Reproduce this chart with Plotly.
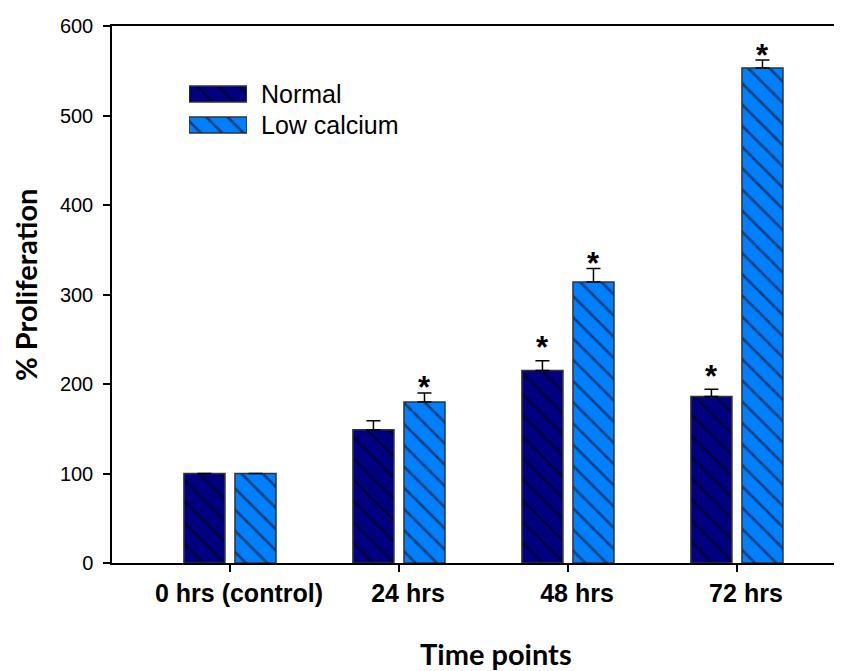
import plotly.graph_objects as go

categories = ["0 hrs (control)", "24 hrs", "48 hrs", "72 hrs"]
normal = [100, 149, 215, 186]
normal_err = [0, 10, 11, 8]
low_ca = [100, 180, 314, 553]
low_ca_err = [0, 10, 15, 9]
normal_sig = [False, False, True, True]
low_sig = [False, True, True, True]
y_ticks = [0, 100, 200, 300, 400, 500, 600]

NAVY = "#000080"
BLUE = "#0080ff"
OFF = 8                      # page body margin of the html page
W, H = 842 - OFF, 671 - OFF  # figure size so the page fits the window
L, R, T, B = 112 - OFF, 5, 26 - OFF, 108   # margins in figure px

pattern = dict(shape="\\", fgcolor="black", size=15, solidity=0.18)
outline = dict(color="#333", width=1.5)

fig = go.Figure()
fig.add_trace(go.Bar(
    name="Normal", x=categories, y=normal,
    marker=dict(color=NAVY, line=outline, pattern=pattern),
    error_y=dict(type="data", array=normal_err, arrayminus=[0]*4, symmetric=False,
                 color="black", thickness=1.5, width=7),
    showlegend=False,
))
fig.add_trace(go.Bar(
    name="Low calcium", x=categories, y=low_ca,
    marker=dict(color=BLUE, line=outline, pattern=pattern),
    error_y=dict(type="data", array=low_ca_err, arrayminus=[0]*4, symmetric=False,
                 color="black", thickness=1.5, width=7),
    showlegend=False,
))

pw = W - L - R
ph = H - T - B
def px_x(p):  # screen px -> paper fraction
    return (p - OFF - L) / pw
def px_y(p):
    return (H - B - (p - OFF)) / ph

# custom legend swatches (large patterned boxes, as in the reference)
leg_names = ["Normal", "Low calcium"]
leg_colors = [NAVY, BLUE]
for i, (nm, col) in enumerate(zip(leg_names, leg_colors)):
    fig.add_trace(go.Bar(
        x=[1], y=[1 - i], orientation="h", width=0.52,
        marker=dict(color=col, line=outline, pattern=pattern),
        xaxis="x2", yaxis="y2", showlegend=False, hoverinfo="skip",
    ))
    fig.add_annotation(
        x=1, y=1 - i, xref="x2", yref="y2", text=nm, showarrow=False,
        xanchor="left", yanchor="middle", xshift=12,
        font=dict(family="Liberation Sans, Arial", size=25, color="black"),
    )

# significance asterisks
off = 0.151
for i, c in enumerate(categories):
    if normal_sig[i]:
        fig.add_annotation(x=i - off, y=normal[i] + normal_err[i], text="<b>*</b>", showarrow=False,
                           yanchor="middle", yshift=13,
                           font=dict(family="Liberation Sans, Arial", size=31, color="black"))
    if low_sig[i]:
        fig.add_annotation(x=i + off, y=low_ca[i] + low_ca_err[i], text="<b>*</b>", showarrow=False,
                           yanchor="middle", yshift=5,
                           font=dict(family="Liberation Sans, Arial", size=31, color="black"))

# axis titles
fig.add_annotation(x=px_x(496), y=px_y(653), xref="paper", yref="paper", text="<b>Time points</b>",
                   showarrow=False, xanchor="center", yanchor="middle",
                   font=dict(family="Lato", size=29, color="black"))
fig.add_annotation(x=px_x(25), y=px_y(285), xref="paper", yref="paper", text="<b>% Proliferation</b>",
                   showarrow=False, xanchor="center", yanchor="middle", textangle=-90, borderpad=0,
                   font=dict(family="Lato", size=29, color="black"))

fig.update_layout(
    width=W, height=H,
    margin=dict(l=L, r=R, t=T, b=B),
    paper_bgcolor="white", plot_bgcolor="white",
    barmode="group", bargap=0.396, bargroupgap=0.196,
    xaxis=dict(
        range=[-0.698, 3.592], showline=True, linecolor="black", linewidth=1.5, mirror=True,
        ticks="outside", ticklen=7, tickwidth=1.5, tickcolor="black",
        showgrid=False, zeroline=False, ticklabelshift=9,
        tickfont=dict(family="Liberation Sans, Arial", size=25, color="black"),
        tickvals=categories, ticktext=["<b>%s</b>" % c for c in categories],
    ),
    yaxis=dict(
        range=[0, 600], showline=True, linecolor="black", linewidth=1.5,
        ticks="outside", ticklen=7, tickwidth=1.5, tickcolor="black",
        tickvals=y_ticks, showgrid=False, zeroline=False, ticklabelstandoff=6,
        tickfont=dict(family="Liberation Sans, Arial", size=20, color="black"),
    ),
    xaxis2=dict(domain=[px_x(189), px_x(247)], range=[0, 1], visible=False, anchor="y2"),
    yaxis2=dict(domain=[px_y(140.5), px_y(78.5)], range=[-0.5, 1.5], visible=False, anchor="x2"),
)

fig.write_html("out.html")
